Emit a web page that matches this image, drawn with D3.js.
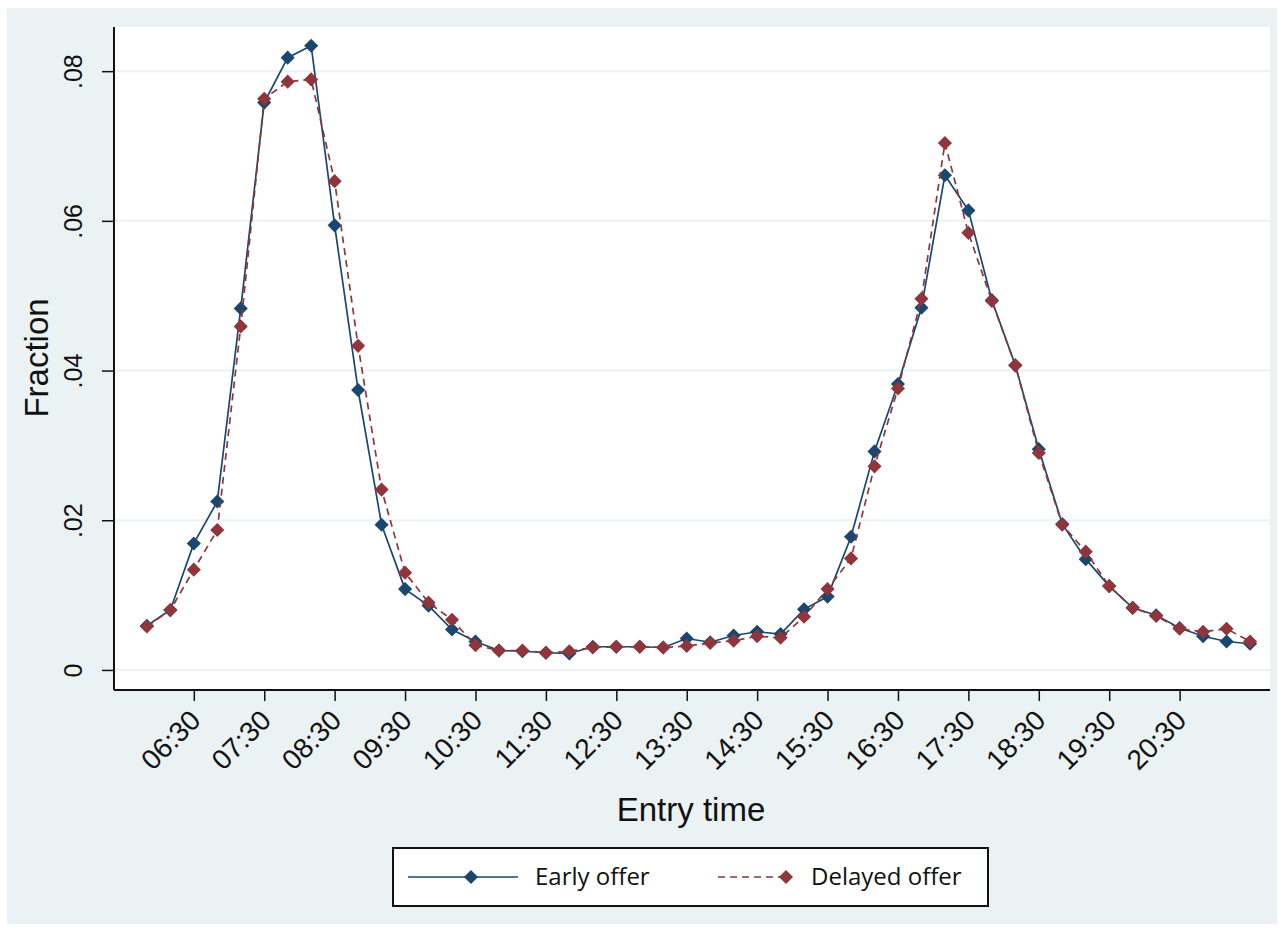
<!DOCTYPE html>
<html lang="en">
<head>
  <meta charset="UTF-8">
  <title>Entry time</title>
  <script src="https://d3js.org/d3.v7.min.js"></script>
  <style>
    body { margin: 0; background: #fff; }
    text { font-family: "Liberation Sans", Arial, sans-serif; fill: #111; }
    .legend text { font-family: "Open Sans", "Noto Sans", sans-serif; }
  </style>
</head>
<body>
  <div id="chart"></div>

  <script>
    // entry time bins (20 minutes apart)
    const times = ["05:50","06:10","06:30","06:50","07:10","07:30","07:50","08:10","08:30","08:50",
                   "09:10","09:30","09:50","10:10","10:30","10:50","11:10","11:30","11:50","12:10",
                   "12:30","12:50","13:10","13:30","13:50","14:10","14:30","14:50","15:10","15:30",
                   "15:50","16:10","16:30","16:50","17:10","17:30","17:50","18:10","18:30","18:50",
                   "19:10","19:30","19:50","20:10","20:30","20:50","21:10","21:30"];
    const earlyOffer = [.0059,.0080,.0169,.0225,.0483,.0758,.0818,.0834,.0594,.0374,
                        .0194,.0108,.0086,.0054,.0038,.0026,.0025,.0023,.0022,.0031,
                        .0031,.0031,.0030,.0042,.0037,.0046,.0051,.0048,.0081,.0098,
                        .0178,.0292,.0382,.0484,.0661,.0614,.0494,.0407,.0295,.0195,
                        .0148,.0112,.0083,.0073,.0056,.0045,.0038,.0035];
    const delayedOffer = [.0058,.0080,.0134,.0187,.0459,.0763,.0786,.0789,.0653,.0433,
                          .0241,.0130,.0090,.0067,.0033,.0026,.0026,.0023,.0025,.0030,
                          .0031,.0031,.0030,.0032,.0036,.0039,.0045,.0043,.0071,.0108,
                          .0149,.0272,.0376,.0496,.0704,.0584,.0493,.0407,.0290,.0194,
                          .0158,.0112,.0083,.0072,.0055,.0051,.0055,.0038];
    const xTicks = ["06:30","07:30","08:30","09:30","10:30","11:30","12:30","13:30",
                    "14:30","15:30","16:30","17:30","18:30","19:30","20:30"];
    const yTicks = [0, .02, .04, .06, .08];

    const width = 1283, height = 930;
    const plot = { left: 114, right: 1270, top: 27, bottom: 690 };
    const blue = "#1a476f", red = "#90353b", bg = "#eaf2f3";
    const font = "Liberation Sans, Arial, sans-serif";

    const toMin = s => { const [h, m] = s.split(":").map(Number); return h * 60 + m; };

    const svg = d3.select("#chart").append("svg")
      .attr("width", width).attr("height", height);

    // stata-ish outer background + white plot region
    svg.append("rect").attr("x", 7).attr("y", 8).attr("width", 1270).attr("height", 916).attr("fill", bg);
    svg.append("rect").attr("x", plot.left).attr("y", plot.top)
      .attr("width", plot.right - plot.left).attr("height", plot.bottom - plot.top).attr("fill", "#fff");

    const x = d3.scaleLinear().domain([322, 1307]).range([plot.left, plot.right]);
    const y = d3.scaleLinear().domain([-0.00268, 0.0859]).range([plot.bottom, plot.top]);

    // grid
    svg.append("g").selectAll("line").data(yTicks).join("line")
      .attr("x1", plot.left).attr("x2", plot.right)
      .attr("y1", d => y(d)).attr("y2", d => y(d))
      .attr("stroke", bg).attr("stroke-width", 2);

    // y axis
    const yAxis = svg.append("g").attr("transform", `translate(${plot.left},0)`)
      .call(d3.axisLeft(y).tickValues(yTicks).tickSize(12).tickSizeOuter(0)
        .tickFormat(d => d === 0 ? "0" : d3.format(".2f")(d).replace(/^0/, "")));
    yAxis.attr("font-family", font);
    yAxis.select(".domain").attr("stroke", "#111").attr("stroke-width", 2)
      .attr("d", `M0,${plot.top}V${plot.bottom}`);
    yAxis.selectAll(".tick line").attr("stroke", "#111").attr("stroke-width", 1.5);
    yAxis.selectAll(".tick text")
      .attr("font-size", 25).attr("fill", "#111")
      .attr("text-anchor", "middle")
      .attr("x", null).attr("dy", null)
      .attr("transform", "translate(-32,0) rotate(-90)");

    // x axis
    const xAxis = svg.append("g").attr("transform", `translate(0,${plot.bottom})`)
      .call(d3.axisBottom(x).tickValues(xTicks.map(toMin)).tickSize(11).tickSizeOuter(0)
        .tickFormat((d, i) => xTicks[i]));
    xAxis.attr("font-family", font);
    xAxis.select(".domain").attr("stroke", "#111").attr("stroke-width", 2)
      .attr("d", `M${plot.left},0H${plot.right}`);
    xAxis.selectAll(".tick line").attr("stroke", "#111").attr("stroke-width", 1.5);
    xAxis.selectAll(".tick text")
      .attr("font-size", 28).attr("fill", "#111")
      .attr("text-anchor", "end")
      .attr("y", null).attr("dy", null)
      .attr("transform", "translate(8,32) rotate(-45)");

    // axis titles
    svg.append("text")
      .attr("transform", "translate(48,358) rotate(-90)")
      .attr("text-anchor", "middle").attr("font-size", 33)
      .text("Fraction");
    svg.append("text")
      .attr("x", 691).attr("y", 821)
      .attr("text-anchor", "middle").attr("font-size", 33)
      .text("Entry time");

    const series = [
      { name: "Early offer", values: earlyOffer, color: blue, dash: null },
      { name: "Delayed offer", values: delayedOffer, color: red, dash: "7,5" }
    ];

    const line = d3.line().x(d => x(d[0])).y(d => y(d[1]));
    const diamond = d3.symbol().type(d3.symbolSquare).size(100);

    series.forEach(s => {
      const pts = times.map((t, i) => [toMin(t), s.values[i]]);
      svg.append("path").datum(pts)
        .attr("fill", "none").attr("stroke", s.color).attr("stroke-width", 1.7)
        .attr("stroke-dasharray", s.dash)
        .attr("d", line);
      svg.append("g").selectAll("path").data(pts).join("path")
        .attr("d", diamond)
        .attr("transform", d => `translate(${x(d[0])},${y(d[1])}) rotate(45)`)
        .attr("fill", s.color);
    });

    // legend
    const legend = svg.append("g").attr("class", "legend");
    legend.append("rect").attr("x", 393).attr("y", 848).attr("width", 595).attr("height", 58)
      .attr("fill", "#fff").attr("stroke", "#111").attr("stroke-width", 2);
    const items = [
      { s: series[0], x1: 408, x2: 518, mx: 471, tx: 535 },
      { s: series[1], x1: 718, x2: 786, mx: 786, tx: 811 }
    ];
    items.forEach(it => {
      legend.append("line").attr("x1", it.x1).attr("x2", it.x2).attr("y1", 877).attr("y2", 877)
        .attr("stroke", it.s.color).attr("stroke-width", 1.7).attr("stroke-dasharray", it.s.dash);
      legend.append("path").attr("d", diamond)
        .attr("transform", `translate(${it.mx},877) rotate(45)`).attr("fill", it.s.color);
      legend.append("text").attr("x", it.tx).attr("y", 885).attr("font-size", 24).text(it.s.name);
    });
  </script>
</body>
</html>
